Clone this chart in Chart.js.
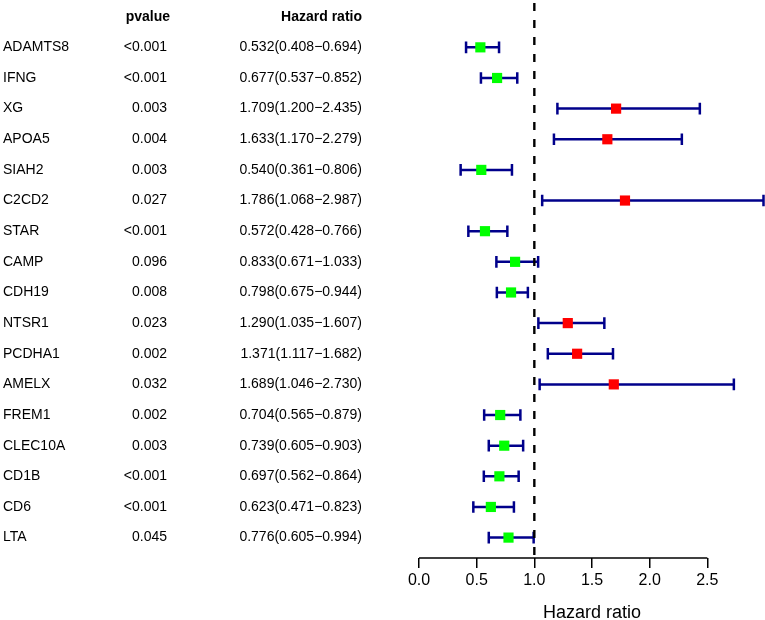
<!DOCTYPE html>
<html>
<head>
<meta charset="utf-8">
<script src="https://cdn.jsdelivr.net/npm/chart.js@4/dist/chart.umd.min.js"></script>
<style>
html,body{margin:0;padding:0;background:#fff;}
canvas{display:block;}
</style>
</head>
<body>
<canvas id="c" width="765" height="620"></canvas>
<script>
const genes = ["ADAMTS8","IFNG","XG","APOA5","SIAH2","C2CD2","STAR","CAMP","CDH19","NTSR1","PCDHA1","AMELX","FREM1","CLEC10A","CD1B","CD6","LTA"];
const pvalues = ["<0.001","<0.001","0.003","0.004","0.003","0.027","<0.001","0.096","0.008","0.023","0.002","0.032","0.002","0.003","<0.001","<0.001","0.045"];
const hr = [0.532,0.677,1.709,1.633,0.540,1.786,0.572,0.833,0.798,1.290,1.371,1.689,0.704,0.739,0.697,0.623,0.776];
const lower = [0.408,0.537,1.200,1.170,0.361,1.068,0.428,0.671,0.675,1.035,1.117,1.046,0.565,0.605,0.562,0.471,0.605];
const upper = [0.694,0.852,2.435,2.279,0.806,2.987,0.766,1.033,0.944,1.607,1.682,2.730,0.879,0.903,0.864,0.823,0.994];
const xTicks = [0,0.5,1,1.5,2,2.5];
const refLine = 1;

const FONT = "'Liberation Sans', Arial, Helvetica, sans-serif";
const NAVY = "#00008B";
const Y_MIN = -1.545, Y_MAX = 16.666;

const hrText = hr.map((v,i)=> v.toFixed(3)+"("+lower[i].toFixed(3)+"\u2212"+upper[i].toFixed(3)+")");
const colors = hr.map(v => v > 1 ? "#FF0000" : "#00FF00");

const whiskers = {
  id:'whiskers',
  beforeDatasetsDraw(chart){
    const {ctx, scales:{x,y}} = chart;
    ctx.save();
    ctx.strokeStyle = NAVY;
    ctx.lineWidth = 2.5;
    ctx.lineCap = 'butt';
    genes.forEach((g,i)=>{
      const py = y.getPixelForValue(i);
      const x1 = x.getPixelForValue(lower[i]);
      const x2 = x.getPixelForValue(upper[i]);
      ctx.beginPath();
      ctx.moveTo(x1,py); ctx.lineTo(x2,py);
      ctx.moveTo(x1,py-5.8); ctx.lineTo(x1,py+5.8);
      ctx.moveTo(x2,py-5.8); ctx.lineTo(x2,py+5.8);
      ctx.stroke();
    });
    ctx.restore();
  }
};

const textCols = {
  id:'textCols',
  afterDraw(chart){
    const {ctx, scales:{x,y}} = chart;
    ctx.save();
    ctx.fillStyle = '#000';
    ctx.textBaseline = 'middle';
    const hy = y.getPixelForValue(-1);
    ctx.font = "bold 14px " + FONT;
    ctx.textAlign = 'right';
    ctx.fillText("pvalue", 170, hy);
    ctx.fillText("Hazard ratio", 362, hy);
    ctx.font = "14px " + FONT;
    genes.forEach((g,i)=>{
      const py = y.getPixelForValue(i);
      ctx.textAlign = 'left';
      ctx.fillText(g, 3, py);
      ctx.textAlign = 'right';
      ctx.fillText(pvalues[i], 167, py);
      ctx.fillText(hrText[i], 362, py);
    });
    const ab = chart.chartArea.bottom;
    ctx.strokeStyle = '#000';
    ctx.lineWidth = 1.5;
    ctx.beginPath();
    ctx.moveTo(x.getPixelForValue(xTicks[0]), ab);
    ctx.lineTo(x.getPixelForValue(xTicks[xTicks.length-1]), ab);
    ctx.stroke();
    ctx.restore();
  }
};

new Chart(document.getElementById('c'), {
  type:'scatter',
  data:{
    datasets:[
      {
        label:'HR',
        data: hr.map((v,i)=>({x:v, y:i})),
        pointStyle:'rect',
        pointRadius:7.2,
        pointHoverRadius:7.2,
        backgroundColor: colors,
        borderWidth:0,
        order:1
      },
      {
        type:'line',
        label:'ref',
        data:[{x:refLine,y:Y_MIN},{x:refLine,y:Y_MAX}],
        borderColor:'#000',
        borderWidth:2.4,
        borderDash:[8,9],
        borderDashOffset:-3,
        pointRadius:0,
        fill:false,
        order:2
      }
    ]
  },
  options:{
    responsive:false,
    animation:false,
    events:[],
    layout:{autoPadding:false, padding:{left:419,right:0,top:0,bottom:0}},
    plugins:{legend:{display:false},tooltip:{enabled:false}},
    scales:{
      x:{
        type:'linear',
        min:0, max:3.0,
        position:'bottom',
        border:{display:false},
        grid:{drawOnChartArea:false, drawTicks:true, tickLength:10, color:'#000', lineWidth:1.5},
        afterBuildTicks(scale){ scale.ticks = xTicks.map(v=>({value:v})); },
        ticks:{color:'#000', font:{family:FONT, size:16, lineHeight:1}, padding:5, maxRotation:0, autoSkip:false,
          callback:(v)=>Number(v).toFixed(1)},
        title:{display:true, text:'Hazard ratio', color:'#000', font:{family:FONT, size:18, lineHeight:1}, padding:{top:10,bottom:-2}}
      },
      y:{
        type:'linear',
        display:false,
        reverse:true,
        min:Y_MIN, max:Y_MAX
      }
    }
  },
  plugins:[whiskers, textCols]
});
</script>
</body>
</html>
